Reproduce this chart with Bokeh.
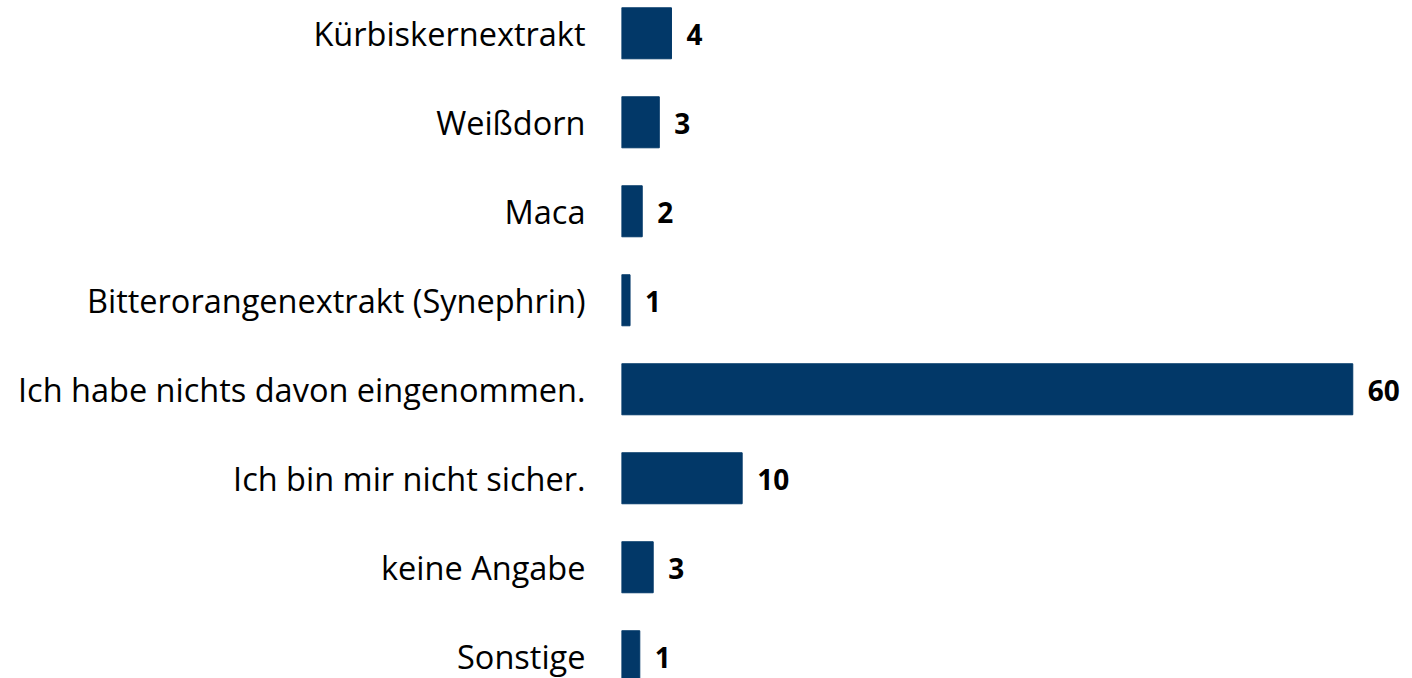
from bokeh.plotting import figure
from bokeh.models import Range1d, FixedTicker, ColumnDataSource, LabelSet
from bokeh.core.properties import value
from bokeh.embed import file_html
from bokeh.resources import INLINE

categories = ["Kürbiskernextrakt", "Weißdorn", "Maca", "Bitterorangenextrakt (Synephrin)",
              "Ich habe nichts davon eingenommen.", "Ich bin mir nicht sicher.",
              "keine Angabe", "Sonstige"]
values = [4.1, 3.1, 1.7, 0.7, 60.0, 9.9, 2.6, 1.5]
value_labels = ["4", "3", "2", "1", "60", "10", "3", "1"]

pos = list(range(len(categories)))
src = ColumnDataSource(dict(y=pos, v=values, lab=value_labels))

p = figure(width=1412, height=678, output_backend="svg", toolbar_location=None,
           x_range=Range1d(0, 64.9), y_range=Range1d(7.25, -0.3685),
           min_border_left=621, min_border_right=0, min_border_top=0, min_border_bottom=0)
p.hbar(y="y", right="v", left=0, height=0.573, source=src, color="#023868")

labels = LabelSet(x="v", y="y", text="lab", source=src, x_offset=15, y_offset=-1,
                  text_font=value("Open Sans"), text_font_style="bold", text_font_size="28px",
                  text_baseline="middle", text_align="left", text_color="#000000")
p.add_layout(labels)

p.xaxis.visible = False
p.yaxis.ticker = FixedTicker(ticks=pos)
p.yaxis.major_label_overrides = {i: c for i, c in enumerate(categories)}
p.yaxis.major_label_text_font = "Open Sans"
p.yaxis.major_label_text_font_size = "32.5px"
p.yaxis.major_label_text_color = "#000000"
p.yaxis.major_label_standoff = 30
p.yaxis.major_tick_line_color = None
p.yaxis.minor_tick_line_color = None
p.yaxis.axis_line_color = None
p.xgrid.visible = False
p.ygrid.visible = False
p.outline_line_color = None

open("out.html", "w").write(file_html(p, INLINE))
